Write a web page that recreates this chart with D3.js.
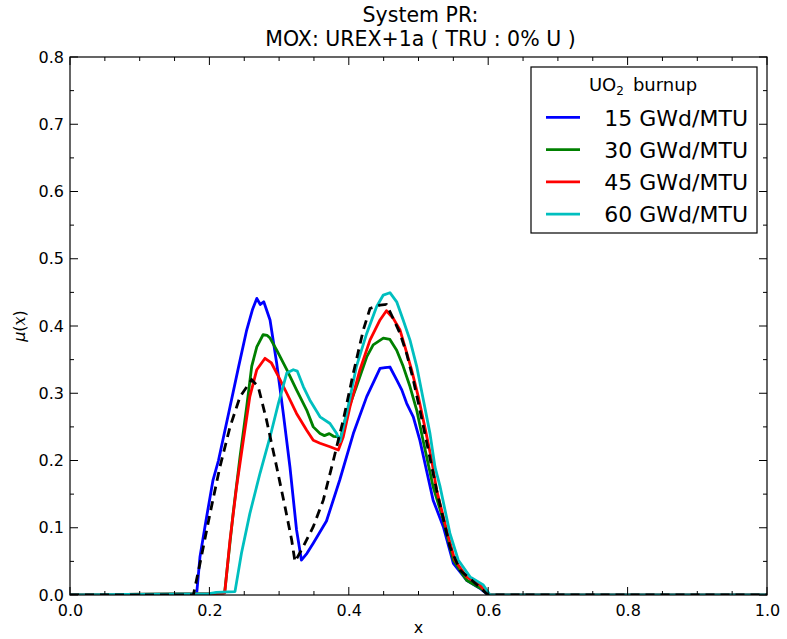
<!DOCTYPE html>
<html><head><meta charset="utf-8">
<script src="https://cdn.jsdelivr.net/npm/d3@7"></script>
<style>body{margin:0;background:#fff;} text{font-family:"DejaVu Sans",sans-serif;}</style>
</head><body>
<svg id="c" width="787" height="639"></svg>
<script>
const titleLines = ["System PR:", "MOX: UREX+1a ( TRU : 0% U )"];
const legendTitle = "UO₂ burnup";
const seriesNames = ["15 GWd/MTU", "30 GWd/MTU", "45 GWd/MTU", "60 GWd/MTU"];
const seriesColors = ["#0000ff", "#008000", "#ff0000", "#00bfbf"];
const xTicks = [0.0, 0.2, 0.4, 0.6, 0.8, 1.0];
const yTicks = [0.0, 0.1, 0.2, 0.3, 0.4, 0.5, 0.6, 0.7, 0.8];

const s15 = [[0,0],[0.180,0],[0.182,0.005],[0.1865,0.057],[0.195,0.11],[0.205,0.17],[0.213,0.20],[0.2296,0.28],[0.242,0.34],[0.2535,0.394],[0.262,0.425],[0.268,0.441],[0.273,0.432],[0.278,0.436],[0.287,0.409],[0.2965,0.345],[0.306,0.27],[0.3156,0.19],[0.325,0.097],[0.332,0.052],[0.34,0.062],[0.349,0.077],[0.368,0.11],[0.387,0.171],[0.4065,0.24],[0.4257,0.295],[0.4448,0.337],[0.452,0.338],[0.459,0.339],[0.4687,0.32],[0.476,0.305],[0.483,0.285],[0.4925,0.265],[0.502,0.23],[0.512,0.183],[0.521,0.141],[0.5356,0.1016],[0.55,0.047],[0.569,0.022],[0.588,0.01],[0.6,0],[1,0]];
const s30 = [[0,0],[0.2,0.002],[0.22,0.003],[0.222,0.005],[0.234,0.121],[0.244,0.206],[0.2535,0.28],[0.2607,0.34],[0.268,0.369],[0.277,0.387],[0.283,0.386],[0.287,0.382],[0.2966,0.364],[0.311,0.335],[0.325,0.305],[0.3396,0.275],[0.349,0.25],[0.3587,0.24],[0.365,0.237],[0.372,0.24],[0.378,0.236],[0.385,0.235],[0.3874,0.23],[0.397,0.27],[0.411,0.31],[0.4257,0.354],[0.435,0.372],[0.4495,0.382],[0.459,0.38],[0.4687,0.364],[0.478,0.34],[0.4878,0.31],[0.4974,0.275],[0.507,0.228],[0.521,0.161],[0.5356,0.1115],[0.55,0.052],[0.569,0.022],[0.593,0.0075],[0.6,0],[1,0]];
const s45 = [[0,0],[0.2,0.002],[0.222,0.003],[0.2296,0.082],[0.239,0.161],[0.2487,0.23],[0.258,0.295],[0.268,0.335],[0.2798,0.352],[0.289,0.345],[0.299,0.325],[0.311,0.30],[0.325,0.27],[0.3396,0.245],[0.349,0.23],[0.3587,0.2256],[0.373,0.2205],[0.385,0.2156],[0.392,0.235],[0.4017,0.28],[0.416,0.335],[0.4304,0.379],[0.4448,0.409],[0.454,0.4227],[0.464,0.411],[0.4735,0.394],[0.4806,0.369],[0.490,0.335],[0.4997,0.295],[0.509,0.25],[0.519,0.2],[0.526,0.156],[0.5404,0.0967],[0.552,0.052],[0.569,0.027],[0.588,0.015],[0.6,0],[1,0]];
const s60 = [[0,0],[0.2,0.002],[0.21,0.004],[0.2367,0.005],[0.246,0.062],[0.258,0.121],[0.2726,0.181],[0.287,0.235],[0.299,0.285],[0.311,0.33],[0.3204,0.335],[0.326,0.333],[0.3347,0.31],[0.344,0.29],[0.3587,0.265],[0.373,0.255],[0.3826,0.24],[0.3874,0.228],[0.397,0.27],[0.411,0.34],[0.4257,0.389],[0.44,0.429],[0.4495,0.446],[0.459,0.4495],[0.4687,0.436],[0.478,0.409],[0.4878,0.379],[0.4974,0.34],[0.507,0.29],[0.5165,0.24],[0.5237,0.19],[0.531,0.161],[0.545,0.092],[0.557,0.052],[0.574,0.027],[0.593,0.015],[0.6026,0],[1,0]];
const sRef = [[0,0],[0.177,0],[0.1865,0.047],[0.2009,0.121],[0.215,0.19],[0.2296,0.25],[0.244,0.295],[0.2607,0.32],[0.27,0.31],[0.282,0.26],[0.2966,0.19],[0.3085,0.131],[0.318,0.082],[0.3228,0.0495],[0.3347,0.072],[0.349,0.1015],[0.3634,0.141],[0.3778,0.2],[0.392,0.26],[0.4065,0.33],[0.4208,0.394],[0.4304,0.426],[0.4448,0.431],[0.454,0.432],[0.4615,0.416],[0.4735,0.389],[0.483,0.359],[0.4925,0.32],[0.502,0.275],[0.512,0.2256],[0.526,0.156],[0.545,0.072],[0.5595,0.037],[0.5786,0.02],[0.6,0],[1,0]];
const seriesData = [s15, s30, s45, s60];

const L = 70, R = 767, T = 57, B = 595;
const svg = d3.select("#c");
const x = d3.scaleLinear().domain([0, 1]).range([L, R]);
const y = d3.scaleLinear().domain([0, 0.8]).range([B, T]);

// lines
const line = d3.line().x(d => x(d[0])).y(d => y(d[1]));
const plot = svg.append("g");
plot.append("defs").append("clipPath").attr("id","clip").append("rect")
  .attr("x", L).attr("y", T).attr("width", R - L).attr("height", B - T);
const pg = plot.append("g").attr("clip-path", "url(#clip)");
seriesData.forEach((s, i) => {
  pg.append("path").attr("d", line(s)).attr("fill", "none")
    .attr("stroke", seriesColors[i]).attr("stroke-width", 2.8).attr("stroke-linejoin", "round");
});
pg.append("path").attr("d", line(sRef)).attr("fill", "none")
  .attr("stroke", "#000").attr("stroke-width", 2.8).attr("stroke-dasharray", "9,6");

// axes frame
svg.append("rect").attr("x", L).attr("y", T).attr("width", R - L).attr("height", B - T)
  .attr("fill", "none").attr("stroke", "#000").attr("stroke-width", 1.2);

const xMinor = d3.range(0, 1.0001, 0.05);
const yMinor = d3.range(0, 0.8001, 0.05);
const tk = svg.append("g").attr("stroke", "#000").attr("stroke-width", 1);
xMinor.forEach((v, i) => {
  const len = (i % 4 === 0) ? 8 : 4;
  tk.append("line").attr("x1", x(v)).attr("x2", x(v)).attr("y1", B).attr("y2", B - len);
  tk.append("line").attr("x1", x(v)).attr("x2", x(v)).attr("y1", T).attr("y2", T + len);
});
yMinor.forEach((v, i) => {
  const len = (i % 2 === 0) ? 8 : 4;
  tk.append("line").attr("y1", y(v)).attr("y2", y(v)).attr("x1", L).attr("x2", L + len);
  tk.append("line").attr("y1", y(v)).attr("y2", y(v)).attr("x1", R).attr("x2", R - len);
});

const xAxis = d3.axisBottom(x).tickValues(xTicks).tickFormat(d3.format(".1f")).tickSize(0).tickPadding(10);
const gx = svg.append("g").attr("transform", `translate(0,${B})`).call(xAxis);
gx.select(".domain").remove();
gx.selectAll("text").attr("font-size", 16).attr("font-family", "DejaVu Sans").attr("fill", "#000");
const yAxis = d3.axisLeft(y).tickValues(yTicks).tickFormat(d3.format(".1f")).tickSize(0).tickPadding(6);
const gy = svg.append("g").attr("transform", `translate(${L},0)`).call(yAxis);
gy.select(".domain").remove();
gy.selectAll("text").attr("font-size", 16).attr("font-family", "DejaVu Sans").attr("fill", "#000");

// labels
svg.append("text").attr("x", (L + R) / 2).attr("y", 633).attr("text-anchor", "middle")
  .attr("font-size", 16).text("x");
const yl = svg.append("text").attr("transform", `translate(25,${(T + B) / 2}) rotate(-90)`)
  .attr("text-anchor", "middle").attr("font-size", 16);
yl.append("tspan").attr("font-style", "italic").text("μ");
yl.append("tspan").text("(");
yl.append("tspan").attr("font-style", "italic").attr("font-family", "DejaVu Serif").text("x");
yl.append("tspan").text(")");

titleLines.forEach((t, i) => {
  svg.append("text").attr("x", (L + R) / 2 + 2).attr("y", 21.5 + i * 24).attr("text-anchor", "middle")
    .attr("font-size", 20.5).text(t);
});

// legend
const lg = svg.append("g");
lg.append("rect").attr("x", 531).attr("y", 67).attr("width", 226).attr("height", 166)
  .attr("fill", "#fff").attr("stroke", "#000").attr("stroke-width", 1.2);
const lt = lg.append("text").attr("x", 643).attr("y", 91).attr("text-anchor", "middle").attr("font-size", 18);
lt.append("tspan").text("UO");
lt.append("tspan").attr("font-size", 12).attr("dy", 4).text("2");
lt.append("tspan").attr("dy", -4).text("\u2002burnup");
seriesNames.forEach((n, i) => {
  const yy = 117.3 + i * 32.3;
  lg.append("line").attr("x1", 546).attr("x2", 580).attr("y1", yy).attr("y2", yy)
    .attr("stroke", seriesColors[i]).attr("stroke-width", 2.8);
  lg.append("text").attr("x", 748).attr("y", yy + 8.2).attr("text-anchor", "end")
    .attr("font-size", 22).text(n);
});
</script>
</body></html>
